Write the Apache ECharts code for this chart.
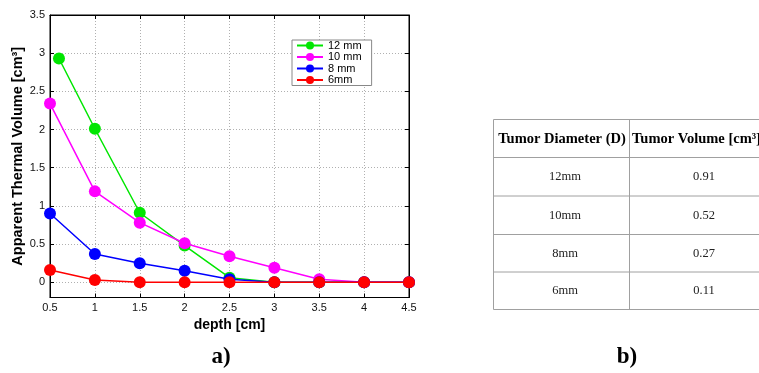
<!DOCTYPE html>
<html><head><meta charset="utf-8">
<script src="https://cdn.jsdelivr.net/npm/echarts@6/dist/echarts.min.js"></script>
<style>html,body{margin:0;padding:0;background:#fff}#c{width:759px;height:373px}</style>
</head><body><div id="c"></div>
<script>
// ---- data ----
var depth = [0.5, 1, 1.5, 2, 2.5, 3, 3.5, 4, 4.5];
var depth12 = [0.6, 1, 1.5, 2, 2.5, 3, 3.5, 4, 4.5];
var vol12 = [2.93, 2.01, 0.91, 0.48, 0.06, 0, 0, 0, 0];
var vol10 = [2.34, 1.19, 0.78, 0.51, 0.34, 0.19, 0.04, 0, 0];
var vol8  = [0.90, 0.37, 0.25, 0.15, 0.04, 0, 0, 0, 0];
var vol6  = [0.16, 0.03, 0, 0, 0, 0, 0, 0, 0];
var seriesNames = ['12 mm', '10 mm', '8 mm', '6mm'];
var yTicks = [0, 0.5, 1, 1.5, 2, 2.5, 3, 3.5];
var tableHeader = ['Tumor Diameter (D)', 'Tumor Volume [cm³]'];
var tableDiam = ['12mm', '10mm', '8mm', '6mm'];
var tableVol = ['0.91', '0.52', '0.27', '0.11'];

function pairs(xs, ys) { return xs.map(function (x, i) { return [x, ys[i]]; }); }

var colors = ['#00e600', '#ff00ff', '#0000ff', '#ff0000'];
var seriesData = [pairs(depth12, vol12), pairs(depth, vol10), pairs(depth, vol8), pairs(depth, vol6)];

var chart = echarts.init(document.getElementById('c'));

// table graphic
var g = [];
var tx0 = 493.5, tx1 = 629.5, tx2 = 790;
var rowsY = [119.5, 157.5, 196, 234.5, 272, 309.5];
var lineStyle = { stroke: '#a0a0a0', lineWidth: 1 };
rowsY.forEach(function (y) {
  g.push({ type: 'line', shape: { x1: tx0, y1: y, x2: tx2, y2: y }, style: lineStyle, silent: true });
});
g.push({ type: 'line', shape: { x1: tx0, y1: rowsY[0], x2: tx0, y2: rowsY[5] }, style: lineStyle });
g.push({ type: 'line', shape: { x1: tx1, y1: rowsY[0], x2: tx1, y2: rowsY[5] }, style: lineStyle });
var c1 = 562, c2 = 704;
g.push({ type: 'text', x: c1, y: (rowsY[0] + rowsY[1]) / 2 + 1, style: { text: tableHeader[0], font: 'bold 14.5px "Liberation Serif"', fill: '#000', align: 'center', verticalAlign: 'middle' } });
g.push({ type: 'text', x: 632, y: (rowsY[0] + rowsY[1]) / 2 + 1, style: { text: tableHeader[1], font: 'bold 14.5px "Liberation Serif"', fill: '#000', align: 'left', verticalAlign: 'middle' } });
for (var i = 0; i < tableDiam.length; i++) {
  var cy = (rowsY[i + 1] + rowsY[i + 2]) / 2;
  g.push({ type: 'text', x: c1 + 3, y: cy, style: { text: tableDiam[i], font: '12.5px "Liberation Serif"', fill: '#222', align: 'center', verticalAlign: 'middle' } });
  g.push({ type: 'text', x: c2, y: cy, style: { text: tableVol[i], font: '12.5px "Liberation Serif"', fill: '#222', align: 'center', verticalAlign: 'middle' } });
}
g.push({ type: 'text', x: 221, y: 357, style: { text: 'a)', font: 'bold 23px "Liberation Serif"', fill: '#000', align: 'center', verticalAlign: 'middle' } });
g.push({ type: 'text', x: 627, y: 357, style: { text: 'b)', font: 'bold 23px "Liberation Serif"', fill: '#000', align: 'center', verticalAlign: 'middle' } });

var tickLbl = { color: '#111', fontSize: 11, fontFamily: 'Liberation Sans' };
var split = { show: true, lineStyle: { color: '#b0b0b0', type: [1, 2], width: 1 } };

var option = {
  animation: false,
  backgroundColor: '#fff',
  grid: { left: 50, top: 15, width: 359, height: 282.5, show: true, borderColor: '#000', borderWidth: 1, backgroundColor: 'transparent' },
  legend: {
    data: seriesNames,
    orient: 'vertical', left: 292, top: 40,
    padding: [0, 10, 0, 4],
    itemGap: 0.5, itemWidth: 26, itemHeight: 10,
    borderColor: '#888', borderWidth: 1, backgroundColor: '#fff',
    textStyle: { fontSize: 11, lineHeight: 10, fontFamily: 'Liberation Sans', color: '#000' }
  },
  xAxis: [{
    type: 'value', min: 0.5, max: 4.5, interval: 0.5,
    name: 'depth [cm]', nameLocation: 'middle', nameGap: 20,
    nameTextStyle: { fontSize: 14, fontWeight: 'bold', fontFamily: 'Liberation Sans', color: '#000' },
    axisLine: { show: true, onZero: false, lineStyle: { color: '#000' } },
    axisTick: { show: true, inside: true, length: 4, lineStyle: { color: '#000' } },
    axisLabel: Object.assign({ margin: 5 }, tickLbl),
    splitLine: split
  }, {
    type: 'value', min: 0.5, max: 4.5, interval: 0.5, position: 'top',
    axisLine: { show: true, onZero: false, lineStyle: { color: '#000' } },
    axisTick: { show: true, inside: true, length: 4, lineStyle: { color: '#000' } },
    axisLabel: { show: false }, splitLine: { show: false }
  }],
  yAxis: [{
    type: 'value', min: -0.2, max: 3.5,
    name: 'Apparent Thermal Volume [cm³]', nameLocation: 'middle', nameGap: 25,
    nameTextStyle: { fontSize: 14.5, fontWeight: 'bold', fontFamily: 'Liberation Sans', color: '#000' },
    axisLine: { show: true, onZero: false, lineStyle: { color: '#000' } },
    axisTick: { show: true, inside: true, length: 4, customValues: yTicks, lineStyle: { color: '#000' } },
    axisLabel: Object.assign({ margin: 5, customValues: yTicks }, tickLbl),
    splitLine: split
  }, {
    type: 'value', min: -0.2, max: 3.5, position: 'right',
    axisLine: { show: true, onZero: false, lineStyle: { color: '#000' } },
    axisTick: { show: true, inside: true, length: 4, customValues: yTicks, lineStyle: { color: '#000' } },
    axisLabel: { show: false, customValues: yTicks }, splitLine: { show: false }
  }],
  series: seriesNames.map(function (n, i) {
    return {
      name: n, type: 'line', data: seriesData[i],
      xAxisIndex: 0, yAxisIndex: 0,
      symbol: 'circle', symbolSize: 12, showAllSymbol: true,
      itemStyle: { color: colors[i] },
      lineStyle: { color: colors[i], width: 1.5 },
      z: 2 + i
    };
  }),
  graphic: g
};
chart.setOption(option);
</script>
</body></html>
